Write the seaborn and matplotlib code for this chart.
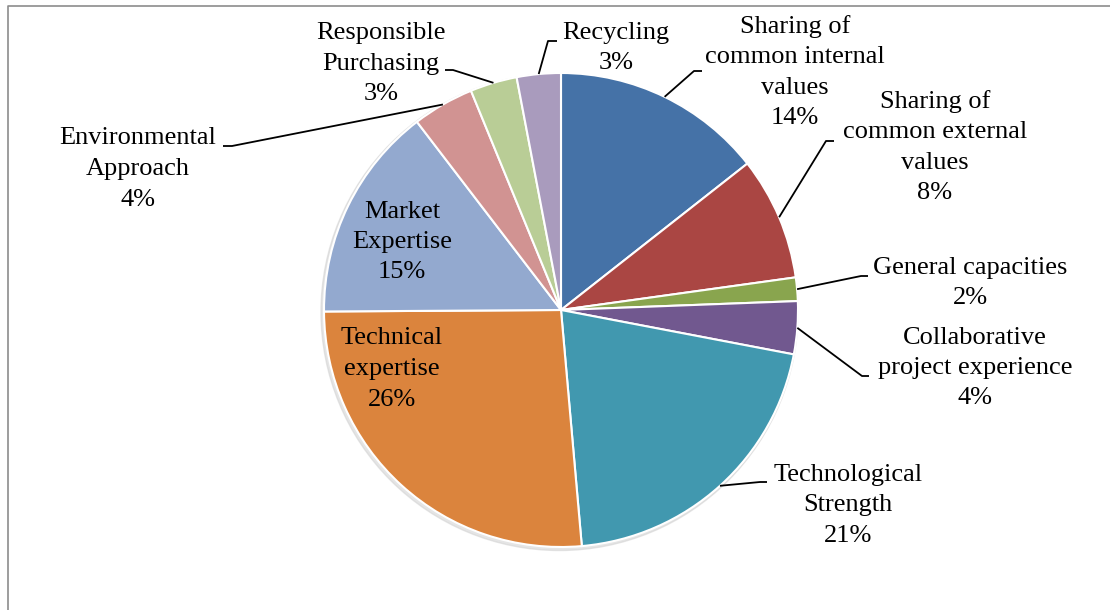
import numpy as np
import matplotlib
matplotlib.use("Agg")
import matplotlib.pyplot as plt
import seaborn as sns

# Share of each partner-selection criterion (percent)
categories = [
    "Sharing of\ncommon internal\nvalues",
    "Sharing of\ncommon external\nvalues",
    "General capacities",
    "Collaborative\nproject experience",
    "Technological\nStrength",
    "Technical\nexpertise",
    "Market\nExpertise",
    "Environmental\nApproach",
    "Responsible\nPurchasing",
    "Recycling",
]
shares = [14.4, 8.4, 1.6, 3.6, 20.6, 26.3, 14.7, 4.2, 3.2, 3.0]

colors = ["#4572A7", "#AA4643", "#89A54E", "#71588F", "#4198AF",
          "#DB843D", "#93A9CF", "#D19392", "#B9CD96", "#A99BBD"]

sns.set_theme(style="white")
plt.rcParams["font.family"] = ["Liberation Serif", "DejaVu Serif"]

W, H = 1110, 610
fig = plt.figure(figsize=(W / 100, H / 100), dpi=100)
ax = fig.add_axes([0, 0, 1, 1])

def Y(y):
    """Convert a top-down pixel row into the axes' upward y coordinate."""
    return H - y

cx, cy, R = 561, 310, 237

# faint drop shadow under the pie
shadow = plt.Circle((cx - 1.5, Y(cy) - 2), R + 1.5, color="#d4d4d4", alpha=0.6, zorder=0)
ax.add_patch(shadow)

wedges, _ = ax.pie(
    shares, colors=colors, startangle=90, counterclock=False,
    center=(cx, Y(cy)), radius=R,
    wedgeprops=dict(edgecolor="white", linewidth=1.5),
)

# label layout: (text centre x, text centre y, leader elbow, leader end) in pixel rows
layout = {
    0: (795, 72, (694, 71), (702, 71)),
    1: (935, 147, (826, 141), (834, 141)),
    2: (970, 283, (861, 276), (868, 276)),
    3: (975, 368, (862, 376), (869, 376)),
    4: (848, 505, (760, 482), (767, 482)),
    5: (392, 369, None, None),
    6: (402, 242, None, None),
    7: (138, 169, (232, 146), (223, 146)),
    8: (381, 64, (453, 70), (445, 70)),
    9: (616, 48, (548, 41), (557, 41)),
}

for i, (w, name, val) in enumerate(zip(wedges, categories, shares)):
    tx, ty, elbow, end = layout[i]
    ax.text(tx, Y(ty), f"{name}\n{val:.0f}%", ha="center", va="center",
            multialignment="center", fontsize=19, color="black",
            linespacing=1.5, zorder=5)
    if elbow is not None:
        mid = np.deg2rad((w.theta1 + w.theta2) / 2)
        sx, sy = cx + R * np.cos(mid), Y(cy) + R * np.sin(mid)
        ax.plot([sx, elbow[0], end[0]], [sy, Y(elbow[1]), Y(end[1])],
                color="black", lw=1.3, solid_capstyle="butt", zorder=4)

# chart area border (left and top edges)
ax.plot([8, 8, W], [0, Y(6), Y(6)], color="#8c8c8c", lw=1.2, clip_on=False)

ax.set_xlim(0, W)
ax.set_ylim(0, H)
ax.set_aspect("equal")
ax.axis("off")

fig.savefig("out.png", dpi=100)
